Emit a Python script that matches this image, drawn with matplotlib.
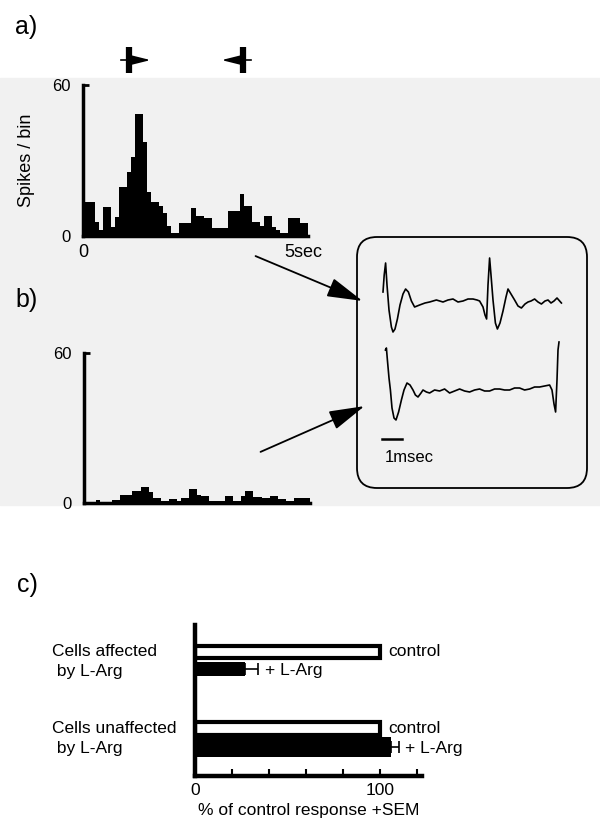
import matplotlib
matplotlib.use("Agg")
import matplotlib.pyplot as plt
import numpy as np
from matplotlib.patches import FancyBboxPatch, FancyArrowPatch, Rectangle

plt.rcParams["font.family"] = ["Liberation Sans", "DejaVu Sans"]

# --- data ---
BIN_WIDTH = 0.1  # s
# a) PSTH during the moving-bar sweeps, control
counts_control = [
    13.5, 13.5, 13.5, 5.5, 2.3, 11.5, 11.5, 3.5, 7.5, 19.5,
    19.5, 25.5, 31.5, 48.5, 48.5, 37.5, 17.5, 13.5, 13.5, 12,
    9, 4, 1.2, 1.2, 5, 5, 5, 11, 8, 8,
    7, 7, 3, 3, 3, 3, 10, 10, 10, 16.5,
    12, 12, 5.5, 5.5, 4, 8, 8, 3.5, 2.3, 1,
    1, 7, 7, 7, 5, 5,
]
# b) same cell during L-Arg
counts_larg = [
    0.4, 0.4, 0.4, 1.3, 0.4, 0.4, 0.4, 1.3, 1.3, 3.3,
    3.3, 3.3, 5, 5, 6.4, 6.4, 4.3, 2, 2, 0.7,
    0.7, 1.7, 1.7, 0.7, 2, 2, 5.6, 5.6, 3.3, 3,
    3, 0.7, 0.7, 0.7, 0.7, 2.7, 2.7, 1, 1, 3,
    4.7, 4.7, 2.4, 2.4, 2, 2, 2.7, 2.7, 1.6, 1.6,
    0.7, 0.7, 1.9, 1.9, 1.9, 1.9,
]
# stimulus sweep markers above a): bar position (s) and direction
sweep_at = [1.15, 3.98]
sweep_dir = [1, -1]

# extracellular waveforms (ms, arbitrary amplitude)
wave1_t = [0, 0.06, 0.13, 0.2, 0.3, 0.42, 0.5, 0.6, 0.72, 0.85, 1.0, 1.13,
           1.27, 1.42, 1.58, 1.83, 2.1, 2.33, 2.67, 3.0, 3.25, 3.5, 3.75, 4.0,
           4.25, 4.5, 4.7, 4.83, 5.0, 5.1, 5.18, 5.25, 5.33, 5.4, 5.5, 5.62,
           5.72, 5.85, 6.0, 6.15, 6.25, 6.4, 6.58, 6.75, 6.92, 7.1, 7.25, 7.4,
           7.58, 7.75, 7.92, 8.1, 8.25, 8.4, 8.55, 8.7, 8.92]
wave1_v = [13, 30, 42, 20, -5, -22, -27, -24, -14, 0, 11, 16,
           13, 4, -2, 0, 2, 3, 5, 3, 5, 6, 3, 4,
           6, 6, 5, 4, -2, -10, -14, 20, 47, 30, 5, -18,
           -24, -18, -6, 8, 16, 11, 5, -1, -3, 1, 3, 4,
           6, 3, 1, 4, 5, 2, 4, 7, 2]
wave2_t = [0.12, 0.17, 0.22, 0.3, 0.37, 0.45, 0.55, 0.65, 0.78, 0.92, 1.05, 1.2,
           1.35, 1.5, 1.62, 1.75, 1.9, 2.0, 2.17, 2.33, 2.58, 2.83, 3.08, 3.33,
           3.58, 3.83, 4.08, 4.33, 4.58, 4.83, 5.08, 5.33, 5.58, 5.83, 6.08, 6.33,
           6.58, 6.83, 7.08, 7.33, 7.58, 7.83, 8.08, 8.33, 8.45, 8.55, 8.63, 8.7,
           8.75, 8.8]
wave2_v = [40, 42, 30, 12, 0, -18, -28, -30, -22, -10, 0, 7,
           5, 0, -5, -7, -3, 0, -2, -3, 0, -1, 1, -3,
           -1, 1, -1, -2, 0, 1, -1, -1, 1, 1, 0, 0,
           2, 2, 0, 1, 3, 3, 4, 5, 0, -14, -22, 10,
           40, 48]

# c) population summary
groups = ["Cells affected\n by L-Arg", "Cells unaffected\n by L-Arg"]
control_pct = [100, 100]
larg_pct = [27, 106]
larg_sem = [7, 4]

# --- layout helpers (figure is 600 x 823 px) ---
W, H = 600, 823


def px_rect(x0, y0, x1, y1):
    return [x0 / W, 1 - y1 / H, (x1 - x0) / W, (y1 - y0) / H]


def px_in(x, y):
    return (x / 100, (H - y) / 100)


fig = plt.figure(figsize=(6, 8.23), dpi=100)
fig.patch.set_facecolor("white")

# faint scanned-page tone behind panels a/b
fig.add_artist(Rectangle((0, 1 - 505 / H), 1, (505 - 78) / H,
                         transform=fig.transFigure, color="#f1f1f1", zorder=-5))


def psth(ax, counts, xlabels):
    edges = np.arange(len(counts) + 1) * BIN_WIDTH
    ax.stairs(counts, edges, fill=True, color="black")
    ax.set_xlim(0, edges[-1])
    ax.set_ylim(0, 60)
    ax.set_facecolor("none")
    for s in ("top", "right"):
        ax.spines[s].set_visible(False)
    ax.spines["left"].set_linewidth(2.5)
    ax.spines["bottom"].set_linewidth(2.5)
    ax.set_yticks([0, 60])
    ax.tick_params(axis="y", direction="in", length=4, width=2, pad=9, labelsize=12)
    if xlabels:
        ax.set_xticks([0, 5])
        ax.set_xticklabels(["0", "5sec"], fontsize=13)
        ax.get_xticklabels()[1].set_horizontalalignment("left")
        ax.tick_params(axis="x", length=0, pad=6)
    else:
        ax.set_xticks([])


ax_a = fig.add_axes(px_rect(83, 85, 308, 236))
psth(ax_a, counts_control, True)
ax_a.set_ylabel("Spikes / bin", fontsize=13, labelpad=12)

# moving-bar stimulus icons
for t, d in zip(sweep_at, sweep_dir):
    ax_a.plot([t, t], [64.8, 75.1], color="black", lw=4.5,
              solid_capstyle="butt", clip_on=False)
    ax_a.plot([t - 0.2 * d, t], [69.9, 69.9], color="black", lw=1.2, clip_on=False)
    ax_a.annotate("", xy=(t + 0.6 * d, 69.9), xytext=(t, 69.9),
                  arrowprops=dict(arrowstyle="-|>,head_length=1.2,head_width=0.3",
                                  color="black", lw=1.2, mutation_scale=10),
                  annotation_clip=False)

ax_b = fig.add_axes(px_rect(84, 353, 310, 503))
psth(ax_b, counts_larg, False)

# waveform inset
box = FancyBboxPatch(px_in(357, 488), 2.30, 2.51,
                     boxstyle="round,pad=0,rounding_size=0.2",
                     transform=fig.dpi_scale_trans, facecolor="none",
                     edgecolor="black", lw=1.3)
fig.add_artist(box)

ax_w = fig.add_axes(px_rect(373, 250, 573, 470))
ax_w.set_axis_off()
ax_w.set_xlim(-0.5, 9.5)
ax_w.set_ylim(-165, 55)
ax_w.plot(wave1_t, wave1_v, color="black", lw=1.2)
ax_w.plot(wave2_t, np.array(wave2_v) - 85, color="black", lw=1.2)
ax_w.plot([-0.05, 0.95], [-134, -134], color="black", lw=1.8)
ax_w.text(0.1, -152, "1msec", fontsize=12, ha="left", va="center")

for a, b in [((253, 255), (365, 302)), ((258, 453), (367, 405))]:
    fig.add_artist(FancyArrowPatch(px_in(*a), px_in(*b),
                                   transform=fig.dpi_scale_trans,
                                   arrowstyle="-|>,head_length=2.2,head_width=0.6",
                                   mutation_scale=10, color="black", lw=1.3))

# c) summary bars
ax_c = fig.add_axes(px_rect(195, 625, 422, 776))
ax_c.set_facecolor("none")
ctrl_y = [27, 103.5]
larg_y = [44, 122]
ctrl_h = [12, 13]
larg_h = [14, 20]
ax_c.barh(ctrl_y, control_pct, height=ctrl_h, facecolor="white",
          edgecolor="black", lw=3)
ax_c.barh(larg_y, larg_pct, height=larg_h, color="black")
ax_c.errorbar(larg_pct, larg_y, xerr=[[0, 0], larg_sem], fmt="none",
              ecolor="black", elinewidth=1.2, capsize=4, capthick=1.2)
for y, v in zip(ctrl_y, control_pct):
    ax_c.annotate("control", (v, y), xytext=(6, 0), textcoords="offset points",
                  fontsize=12.5, va="center", ha="left")
for y, v, e in zip(larg_y, larg_pct, larg_sem):
    ax_c.annotate("+ L-Arg", (v + e, y), xytext=(5, -1), textcoords="offset points",
                  fontsize=12.5, va="center", ha="left")
for y0, y1, g in zip(ctrl_y, larg_y, groups):
    ax_c.text(-0.63, (y0 + y1) / 2 + 1, g, transform=ax_c.get_yaxis_transform(),
              fontsize=12.5, ha="left", va="center", linespacing=1.45)

ax_c.set_xlim(0, 122.7)
ax_c.set_ylim(151, 0)
for s in ("top", "right"):
    ax_c.spines[s].set_visible(False)
ax_c.spines["left"].set_linewidth(3.2)
ax_c.spines["bottom"].set_linewidth(3.2)
ax_c.set_yticks([])
ax_c.set_xticks([0, 100])
ax_c.set_xticks([20, 40, 60, 80, 120], minor=True)
ax_c.tick_params(axis="x", which="both", direction="in", length=5, width=1.5,
                 labelsize=12.5, pad=5)
ax_c.set_xlabel("% of control response +SEM", fontsize=12.5, labelpad=4)

# panel letters
fig.text(15 / W, 1 - 27 / H, "a)", fontsize=18, va="center", ha="left")
fig.text(15 / W, 1 - 300 / H, "b)", fontsize=18, va="center", ha="left")
fig.text(17 / W, 1 - 585 / H, "c)", fontsize=18, va="center", ha="left")

fig.savefig("out.png", dpi=100)
